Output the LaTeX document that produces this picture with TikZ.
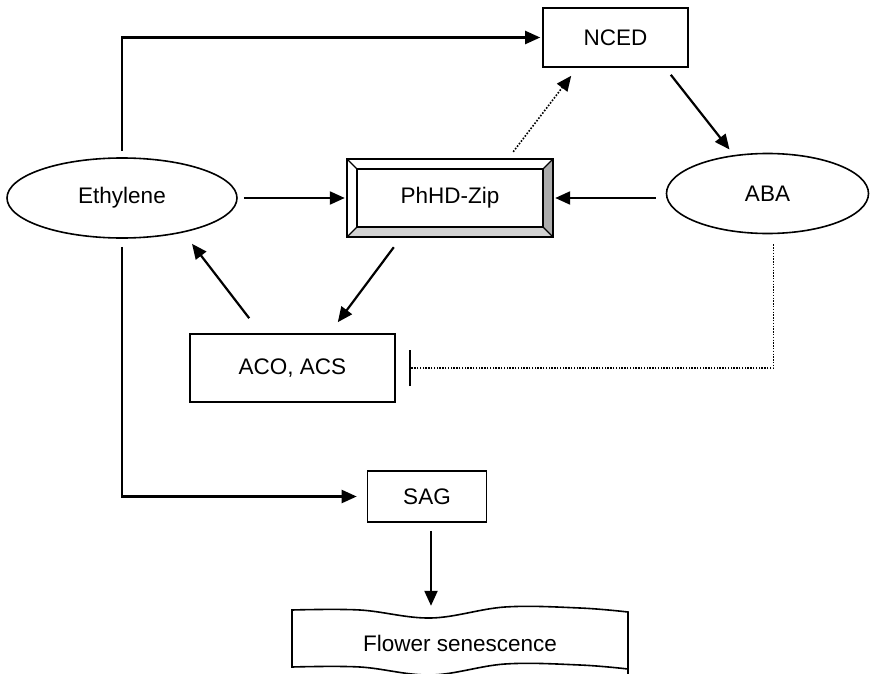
\documentclass[tikz,border=0pt]{standalone}
\usepackage{fontspec}
\setmainfont{Liberation Sans}
\usetikzlibrary{arrows.meta,shapes.geometric}
\begin{document}
\begin{tikzpicture}[x=1pt,y=-1pt,
  every node/.style={font=\fontsize{22.5}{26}\selectfont},
  ln/.style={line width=2.2pt},
  arr/.style={ln,-{Triangle[length=15pt,width=13pt]}},
  darr/.style={line width=1.6pt,dash pattern=on 1.6pt off 1.6pt,-{Triangle[length=15pt,width=13pt]}},
  inh/.style={line width=1.4pt,dash pattern=on 1.4pt off 1.4pt,-{Bar[width=36pt,line width=2pt]}},
  bx/.style={draw,line width=1.6pt,rectangle,inner sep=0pt},
  el/.style={draw,line width=1.6pt,ellipse,inner sep=0pt}]
\useasboundingbox[fill=white] (0,0) rectangle (870,674);
% nodes
\node[el,minimum width=230pt,minimum height=80pt] (eth) at (122,198) {Ethylene};
\node[el,minimum width=202pt,minimum height=80pt] (aba) at (767.5,193.5) {ABA};
\node[bx,minimum width=145pt,minimum height=59pt] (nced) at (615.5,37.5) {NCED};
\node[bx,minimum width=205pt,minimum height=68pt] (aco) at (292.5,368) {ACO, ACS};
\node[bx,minimum width=119pt,minimum height=51pt] (sag) at (427,496.5) {SAG};
% bevelled PhHD-Zip box
\fill[gray!35] (347,237) -- (553,237) -- (543,227) -- (357,227) -- cycle;
\fill[gray!65] (553,159) -- (553,237) -- (543,227) -- (543,169) -- cycle;
\draw[line width=1.4pt] (347,159) rectangle (553,237);
\draw[line width=1.4pt] (357,169) rectangle (543,227);
\draw[line width=1.2pt] (347,159) -- (357,169) (553,159) -- (543,169)
  (347,237) -- (357,227) (553,237) -- (543,227);
\node[minimum width=206pt,minimum height=78pt,inner sep=0pt] (phd) at (450,198) {PhHD-Zip};
% flower senescence (wavy document shape)
\draw[line width=1.6pt,fill=white] plot[smooth,tension=0.6] coordinates
  {(292,610) (360,610) (431,618) (505,607) (580,608) (628,612)}
  -- (628,680) -- plot[smooth,tension=0.6] coordinates
  {(628,669) (580,665) (505,664) (431,675) (360,667) (292,667)} -- cycle;
\node (fl) at (460,643) {Flower senescence};
% connectors
\draw[arr,shorten <=6pt,shorten >=2pt] (eth.north) |- (nced.west);
\draw[arr,shorten <=6pt,shorten >=2pt] (eth.east) -- (phd.west);
\draw[arr,shorten <=10pt,shorten >=2pt] (phd.east -| aba.west) -- (phd.east);
\draw[arr] ([shift={(-18,7)}]nced.south east) -- ([shift={(-38,-44)}]aba.center);
\draw[darr] ([shift={(-40,-7)}]phd.north east) -- ([shift={(29,8)}]nced.south west);
\draw[arr] ([shift={(47,10)}]phd.south west) -- ([shift={(-58,-11)}]aco.north east);
\draw[arr] ([shift={(60,-15)}]aco.north west) -- ([shift={(70,5)}]eth.south);
\draw[inh] ([shift={(6,10)}]aba.south) |- ([xshift=13pt]aco.east);
\draw[arr,shorten <=8pt,shorten >=10pt] (eth.south) |- (sag.west);
\draw[arr] ([shift={(4,8)}]sag.south) -- ++(0,75);
\end{tikzpicture}
\end{document}
